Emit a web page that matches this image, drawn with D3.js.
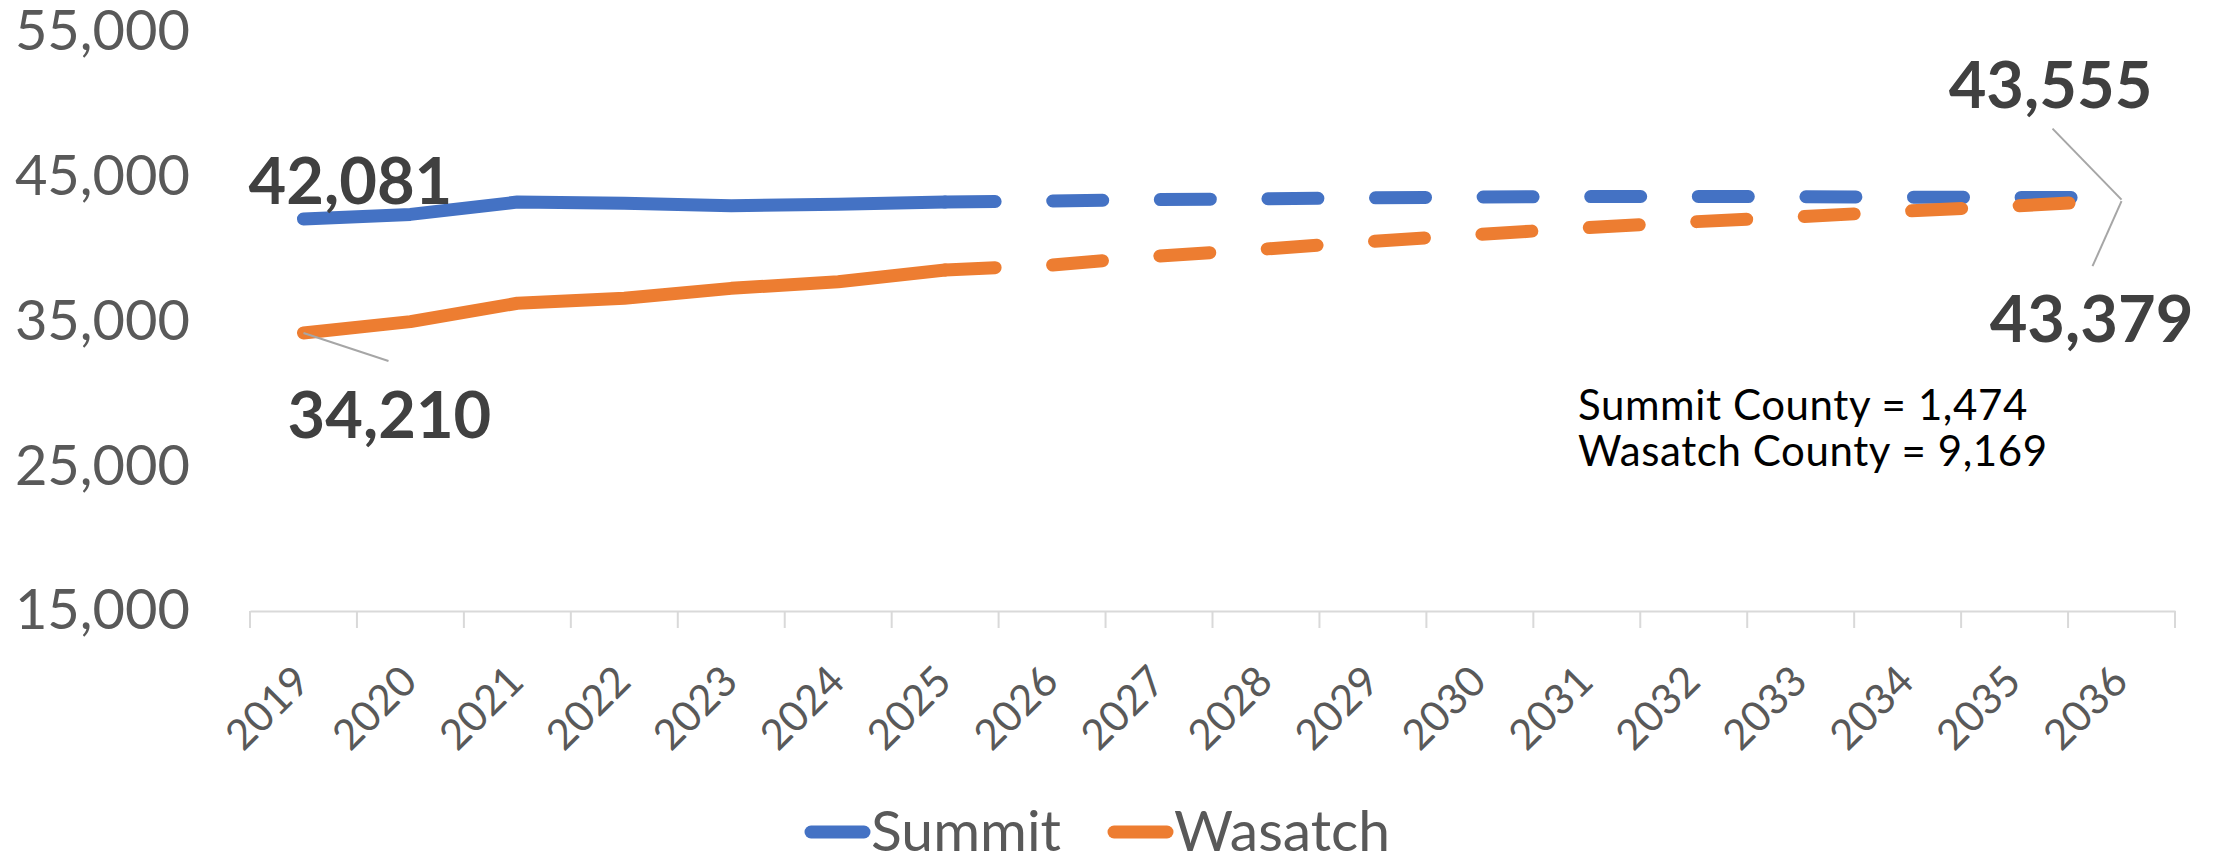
<!DOCTYPE html>
<html>
<head>
<meta charset="utf-8">
<script src="https://cdnjs.cloudflare.com/ajax/libs/d3/7.8.5/d3.min.js"></script>
<style>
  html, body { margin: 0; padding: 0; background: #ffffff; }
  svg { display: block; }
</style>
</head>
<body>
<svg id="chart" width="2222" height="857"></svg>
<script>
// ---------- data ----------
const years = ["2019","2020","2021","2022","2023","2024","2025","2026","2027",
               "2028","2029","2030","2031","2032","2033","2034","2035","2036"];
const summit  = [42081, 42400, 43250, 43170, 43000, 43100, 43250, 43330, 43420,
                 43480, 43540, 43600, 43630, 43640, 43620, 43590, 43570, 43555];
const wasatch = [34210, 34990, 36260, 36600, 37290, 37750, 38560, 38900, 39525,
                 40010, 40540, 41020, 41480, 41890, 42240, 42630, 42980, 43379];
const yTicks = [15000, 25000, 35000, 45000, 55000];
const seriesNames = ["Summit", "Wasatch"];
const projectionStartYear = "2025";
const noteLines = ["Summit County = 1,474", "Wasatch County = 9,169"];

// ---------- setup ----------
const colors = { Summit: "#4472C4", Wasatch: "#ED7D31" };
const svg = d3.select("#chart");
svg.append("rect").attr("width", 2222).attr("height", 857).attr("fill", "#fff");

const x = d3.scaleBand().domain(years).range([250, 2175]);
const cx = d => x(d) + x.bandwidth() / 2;
const y = d3.scaleLinear().domain([15000, 55000]).range([611, 32]);

const fmt = d3.format(",");
const FONT = "Lato, 'Open Sans', sans-serif";

// ---------- y axis (labels only) ----------
const yAxis = svg.append("g")
  .attr("transform", "translate(250,0)")
  .call(d3.axisLeft(y).tickValues(yTicks).tickFormat(fmt).tickSize(0).tickPadding(60));
yAxis.select(".domain").remove();
yAxis.selectAll("text")
  .attr("fill", "#595959")
  .style("font-family", FONT)
  .style("font-size", "56px");

// ---------- x axis ----------
const xAxis = svg.append("g")
  .attr("transform", "translate(0,611)")
  .call(d3.axisBottom(x).tickSize(0).tickPadding(0));
xAxis.select(".domain").attr("stroke", "#D9D9D9").attr("stroke-width", 2);
xAxis.selectAll("text")
  .attr("fill", "#595959")
  .style("font-family", FONT)
  .style("font-size", "42px")
  .attr("text-anchor", "end")
  .attr("y", 0)
  .attr("dy", "0.36em")
  .attr("transform", "translate(-2,62) rotate(-45)");
// tick marks between categories
const boundaries = years.map(d => x(d)).concat([x.range()[1]]);
xAxis.selectAll("line.bound")
  .data(boundaries)
  .enter().append("line")
  .attr("class", "bound")
  .attr("x1", d => d).attr("x2", d => d)
  .attr("y1", 0).attr("y2", 17)
  .attr("stroke", "#D9D9D9").attr("stroke-width", 2);

// ---------- lines ----------
const splitIdx = years.indexOf(projectionStartYear);
const lineGen = d3.line().x(d => cx(d.year)).y(d => y(d.value));
const seriesData = {
  Summit: years.map((yr, i) => ({ year: yr, value: summit[i] })),
  Wasatch: years.map((yr, i) => ({ year: yr, value: wasatch[i] }))
};
const linesG = svg.append("g");
seriesNames.forEach(name => {
  const pts = seriesData[name];
  linesG.append("path")
    .attr("d", lineGen(pts.slice(0, splitIdx + 1)))
    .attr("fill", "none")
    .attr("stroke", colors[name])
    .attr("stroke-width", 13)
    .attr("stroke-linecap", "round")
    .attr("stroke-linejoin", "round");
  linesG.append("path")
    .attr("d", lineGen(pts.slice(splitIdx)))
    .attr("fill", "none")
    .attr("stroke", colors[name])
    .attr("stroke-width", 13)
    .attr("stroke-linecap", "round")
    .attr("stroke-linejoin", "round")
    .attr("stroke-dasharray", "50,57.6");
});

// ---------- data labels with leader lines ----------
const lastIdx = years.length - 1;
const labels = [
  { series: "Summit",  idx: 0,       dx: 47,  dy: -15, leader: null },
  { series: "Wasatch", idx: 0,       dx: 86,  dy: 105, leader: [0, 0, 85, 28] },
  { series: "Summit",  idx: lastIdx, dx: -71, dy: -90, leader: [-69, -69, 0, 2] },
  { series: "Wasatch", idx: lastIdx, dx: -30, dy: 142, leader: [0, 1, -29, 66] }
];
const labG = svg.append("g");
labels.forEach(l => {
  const vals = l.series === "Summit" ? summit : wasatch;
  const px = cx(years[l.idx]);
  const py = y(vals[l.idx]);
  if (l.leader) {
    labG.append("line")
      .attr("x1", px + l.leader[0]).attr("y1", py + l.leader[1])
      .attr("x2", px + l.leader[2]).attr("y2", py + l.leader[3])
      .attr("stroke", "#A6A6A6").attr("stroke-width", 2);
  }
  labG.append("text")
    .attr("x", px + l.dx).attr("y", py + l.dy)
    .attr("text-anchor", "middle")
    .attr("fill", "#404040")
    .style("font-family", FONT)
    .style("font-weight", "bold")
    .style("font-size", "65px")
    .text(fmt(vals[l.idx]));
});

// ---------- note text ----------
svg.append("g").selectAll("text")
  .data(noteLines)
  .enter().append("text")
  .attr("x", 1578)
  .attr("y", (d, i) => 420 + i * 46)
  .attr("fill", "#000")
  .style("font-family", FONT)
  .style("font-size", "42px")
  .style("letter-spacing", "0.6px")
  .text(d => d);

// ---------- legend ----------
const legend = svg.append("g");
const legendItems = [
  { name: "Summit", x0: 811 },
  { name: "Wasatch", x0: 1114 }
];
legendItems.forEach(it => {
  legend.append("line")
    .attr("x1", it.x0).attr("x2", it.x0 + 53)
    .attr("y1", 832).attr("y2", 832)
    .attr("stroke", colors[it.name])
    .attr("stroke-width", 13)
    .attr("stroke-linecap", "round");
  legend.append("text")
    .attr("x", it.x0 + 60).attr("y", 851)
    .attr("fill", "#595959")
    .style("font-family", FONT)
    .style("font-size", "57px")
    .text(it.name);
});
</script>
</body>
</html>
